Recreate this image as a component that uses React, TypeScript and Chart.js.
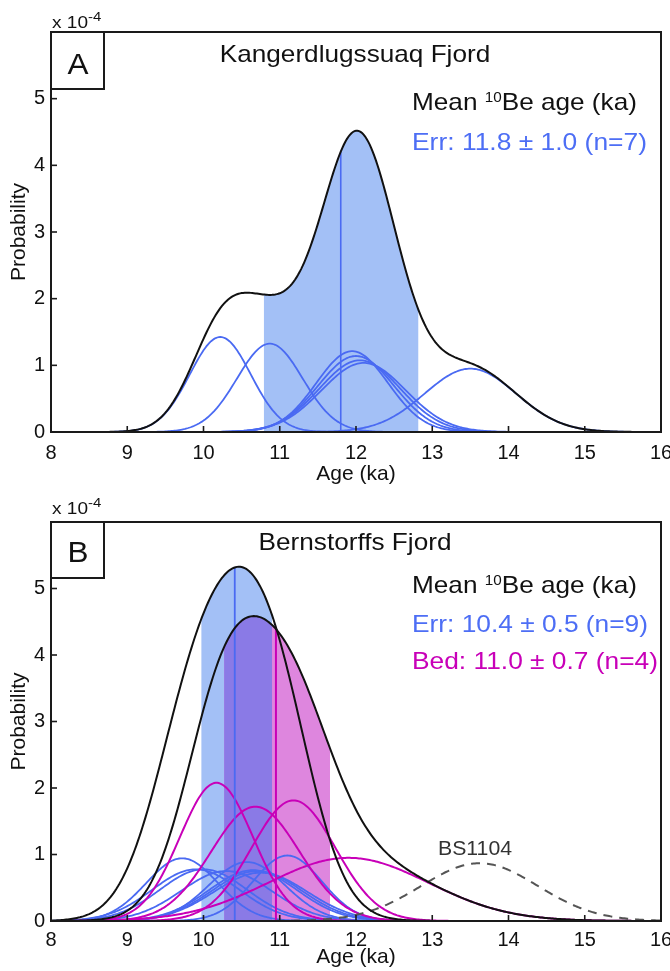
import React, { useEffect, useRef } from "react";
import { Chart, registerables } from "chart.js";

Chart.register(...registerables);

const FONT = '"Liberation Sans", Arial, Helvetica, sans-serif';

// ---------- axes ----------
const X_MIN = 8;
const X_MAX = 16;
const Y_MAX = 6;
const xTicks = [8, 9, 10, 11, 12, 13, 14, 15, 16];
const yTicks = [0, 1, 2, 3, 4, 5];
const xLabel = "Age (ka)";
const yLabel = "Probability";

// ---------- panel A : Kangerdlugssuaq Fjord ----------
const kangTitle = "Kangerdlugssuaq Fjord";
const kangAges = [10.22, 10.87, 11.95, 12.0, 12.05, 12.1, 13.5];
const kangErrors = [0.4, 0.43, 0.47, 0.5, 0.53, 0.55, 0.6];
const kangN = 7;
const kangMeanAge = 11.8;
const kangBand = [10.79, 12.82];
const kangLegend = "Err: 11.8 \u00b1 1.0 (n=7)";

// ---------- panel B : Bernstorffs Fjord ----------
const bernTitle = "Bernstorffs Fjord";
const bernErrAges = [9.72, 9.9, 10.0, 10.3, 10.57, 10.65, 10.7, 10.75, 11.1];
const bernErrErrors = [0.47, 0.57, 0.57, 0.59, 0.5, 0.58, 0.59, 0.61, 0.45];
const bernErrN = 9;
const bernErrMeanAge = 10.41;
const bernErrBand = [9.97, 10.9];
const bernErrLegend = "Err: 10.4 \u00b1 0.5 (n=9)";

const bernBedAges = [10.17, 10.68, 11.18, 11.9];
const bernBedErrors = [0.48, 0.58, 0.55, 1.05];
const bernBedN = 4;
const bernBedMeanAge = 10.95;
const bernBedBand = [10.27, 11.66];
const bernBedLegend = "Bed: 11.0 \u00b1 0.7 (n=4)";

const outlierName = "BS1104";
const outlierAge = 13.62;
const outlierError = 0.765;
const outlierN = 6;

// ---------- colours ----------
const BLUE = "#4a6af2";
const BLUE_TEXT = "#4d6ef5";
const BLUE_FILL = "#a3c0f6";
const MAGENTA = "#c800b8";
const PINK_FILL = "#de86de";
const PURPLE_FILL = "#8a7ae6";
const BLACK = "#111111";

// evaluation grid for the probability density curves
const grid: number[] = [];
for (let i = 0; i <= 400; i++) grid.push(X_MIN + (i * (X_MAX - X_MIN)) / 400);

// normal pdf per year, expressed in units of 1e-4
const pdf = (x: number, m: number, s: number, n: number) =>
  (10 / (n * s * Math.sqrt(2 * Math.PI))) * Math.exp(-0.5 * ((x - m) / s) ** 2);

const sumAt = (x: number, ms: number[], ss: number[], n: number) =>
  ms.reduce((acc, m, i) => acc + pdf(x, m, ss[i], n), 0);

const curve = (m: number, s: number, n: number) => grid.map((x) => ({ x, y: pdf(x, m, s, n) }));
const sumCurve = (ms: number[], ss: number[], n: number) =>
  grid.map((x) => ({ x, y: sumAt(x, ms, ss, n) }));
const bandPoints = (lo: number, hi: number, f: (x: number) => number) =>
  [lo, ...grid.filter((x) => x > lo && x < hi), hi].map((x) => ({ x, y: f(x) }));

const lineDs = (data: any[], color: string, width: number, order: number, dash: number[] = []) => ({
  data,
  borderColor: color,
  borderWidth: width,
  borderDash: dash,
  pointRadius: 0,
  fill: false,
  tension: 0,
  order,
});
const fillDs = (data: any[], color: string, order: number) => ({
  data,
  backgroundColor: color,
  borderColor: "rgba(0,0,0,0)",
  borderWidth: 0,
  pointRadius: 0,
  fill: "origin",
  tension: 0,
  order,
});

function drawText(
  ctx: CanvasRenderingContext2D,
  s: string,
  x: number,
  y: number,
  size: number,
  color: string,
  opts: { align?: CanvasTextAlign; sx?: number; w?: number } = {}
) {
  ctx.save();
  ctx.font = `${size}px ${FONT}`;
  const mw = ctx.measureText(s).width;
  const sx = opts.w ? opts.w / mw : opts.sx ?? 1;
  ctx.translate(x, y);
  ctx.scale(sx, 1);
  ctx.fillStyle = color;
  ctx.textBaseline = "alphabetic";
  ctx.textAlign = opts.align || "left";
  ctx.fillText(s, 0, 0);
  ctx.restore();
  return mw * sx;
}

function drawMeanHeader(ctx: CanvasRenderingContext2D, x: number, y: number) {
  let cx = x;
  cx += drawText(ctx, "Mean ", cx, y, 24, BLACK, { sx: 1.09 });
  cx += drawText(ctx, "10", cx, y - 8, 14, BLACK, { sx: 1.09 });
  drawText(ctx, "Be age (ka)", cx, y, 24, BLACK, { sx: 1.09 });
}

function drawExponent(ctx: CanvasRenderingContext2D, x: number, y: number) {
  const w = drawText(ctx, "x 10", x, y, 17, BLACK, { sx: 1.12 });
  drawText(ctx, "-4", x + w, y - 7, 13, BLACK, { sx: 1.15 });
}

function framePlugin(extra: (ctx: CanvasRenderingContext2D, chart: any) => void) {
  return {
    id: "frame",
    afterDraw(chart: any) {
      const { ctx, chartArea: a, scales } = chart;
      ctx.save();
      ctx.strokeStyle = "#1a1a1a";
      ctx.lineWidth = 2;
      ctx.strokeRect(a.left, a.top, a.right - a.left, a.bottom - a.top);
      ctx.lineWidth = 1.6;
      xTicks.forEach((v) => {
        const px = scales.x.getPixelForValue(v);
        ctx.beginPath();
        ctx.moveTo(px, a.bottom);
        ctx.lineTo(px, a.bottom - 6);
        ctx.stroke();
      });
      yTicks.forEach((v) => {
        const py = scales.y.getPixelForValue(v);
        ctx.beginPath();
        ctx.moveTo(a.left, py);
        ctx.lineTo(a.left + 6, py);
        ctx.stroke();
      });
      ctx.restore();
      extra(ctx, chart);
    },
  };
}

function makeScales(xAxisH: number, xTickPad: number, xTitlePad: number) {
  return {
    x: {
      type: "linear",
      min: X_MIN,
      max: X_MAX,
      afterBuildTicks: (s: any) => {
        s.ticks = xTicks.map((v) => ({ value: v }));
      },
      ticks: { color: BLACK, font: { family: FONT, size: 20 }, padding: xTickPad, maxRotation: 0, autoSkip: false },
      grid: { display: false, drawTicks: false },
      border: { display: false },
      title: {
        display: true,
        text: xLabel,
        color: BLACK,
        font: { family: FONT, size: 21, lineHeight: 1 },
        padding: { top: 0, bottom: xTitlePad },
      },
      afterFit: (s: any) => {
        s.height = xAxisH;
        s.paddingLeft = 0;
        s.paddingRight = 0;
      },
    },
    y: {
      type: "linear",
      min: 0,
      max: Y_MAX,
      afterBuildTicks: (s: any) => {
        s.ticks = yTicks.map((v) => ({ value: v }));
      },
      ticks: { color: BLACK, font: { family: FONT, size: 20 }, padding: 6 },
      grid: { display: false, drawTicks: false },
      border: { display: false },
      title: {
        display: true,
        text: yLabel,
        color: BLACK,
        font: { family: FONT, size: 21, lineHeight: 1 },
        padding: { top: 9, bottom: 0 },
      },
      afterFit: (s: any) => {
        s.width = 51;
        s.paddingTop = 0;
        s.paddingBottom = 0;
      },
    },
  };
}

function baseOptions(areaTop: number, xAxisH: number, xTickPad: number, xTitlePad: number) {
  return {
    responsive: false,
    animation: false,
    events: [],
    layout: { padding: { left: 0, right: 9, top: areaTop, bottom: 0 } },
    plugins: { legend: { display: false }, tooltip: { enabled: false } },
    scales: makeScales(xAxisH, xTickPad, xTitlePad),
  };
}

function configA(): any {
  const sumF = (x: number) => sumAt(x, kangAges, kangErrors, kangN);
  const datasets: any[] = [];
  datasets.push(fillDs(bandPoints(kangBand[0], kangBand[1], sumF), BLUE_FILL, 20));
  kangAges.forEach((m, i) => datasets.push(lineDs(curve(m, kangErrors[i], kangN), BLUE, 1.8, 10)));
  datasets.push(lineDs([{ x: kangMeanAge, y: 0 }, { x: kangMeanAge, y: sumF(kangMeanAge) }], BLUE, 1.6, 5));
  datasets.push(lineDs(sumCurve(kangAges, kangErrors, kangN), BLACK, 2, 0));
  return {
    type: "line",
    data: { datasets },
    options: baseOptions(32, 53, 9, 0),
    plugins: [
      framePlugin((ctx) => {
        drawExponent(ctx, 52, 28);
        ctx.save();
        ctx.strokeStyle = "#1a1a1a";
        ctx.lineWidth = 2;
        ctx.strokeRect(51, 32, 53, 57);
        ctx.restore();
        drawText(ctx, "A", 78, 74, 30, BLACK, { align: "center", sx: 1.05 });
        drawText(ctx, kangTitle, 355, 62, 24, BLACK, { align: "center", sx: 1.09 });
        drawMeanHeader(ctx, 412, 110);
        drawText(ctx, kangLegend, 412, 150, 24, BLUE_TEXT, { w: 235 });
      }),
    ],
  };
}

function configB(): any {
  const errF = (x: number) => sumAt(x, bernErrAges, bernErrErrors, bernErrN);
  const bedF = (x: number) => sumAt(x, bernBedAges, bernBedErrors, bernBedN);
  const ovLo = Math.max(bernErrBand[0], bernBedBand[0]);
  const ovHi = Math.min(bernErrBand[1], bernBedBand[1]);
  const datasets: any[] = [];
  datasets.push(fillDs(bandPoints(bernErrBand[0], bernErrBand[1], errF), BLUE_FILL, 22));
  datasets.push(fillDs(bandPoints(bernBedBand[0], bernBedBand[1], bedF), PINK_FILL, 21));
  datasets.push(fillDs(bandPoints(ovLo, ovHi, (x) => Math.min(errF(x), bedF(x))), PURPLE_FILL, 20));
  bernErrAges.forEach((m, i) => datasets.push(lineDs(curve(m, bernErrErrors[i], bernErrN), BLUE, 1.8, 12)));
  bernBedAges.forEach((m, i) => datasets.push(lineDs(curve(m, bernBedErrors[i], bernBedN), MAGENTA, 2, 11)));
  datasets.push(lineDs(curve(outlierAge, outlierError, outlierN), "#555555", 2, 10, [9, 7]));
  datasets.push(lineDs([{ x: bernErrMeanAge, y: 0 }, { x: bernErrMeanAge, y: errF(bernErrMeanAge) }], BLUE, 1.8, 6));
  datasets.push(lineDs([{ x: bernBedMeanAge, y: 0 }, { x: bernBedMeanAge, y: bedF(bernBedMeanAge) }], MAGENTA, 2, 5));
  datasets.push(lineDs(sumCurve(bernErrAges, bernErrErrors, bernErrN), BLACK, 2, 0));
  datasets.push(lineDs(sumCurve(bernBedAges, bernBedErrors, bernBedN), BLACK, 2, 0));
  return {
    type: "line",
    data: { datasets },
    options: baseOptions(37, 50, 7, 3),
    plugins: [
      framePlugin((ctx) => {
        drawExponent(ctx, 52, 29);
        ctx.save();
        ctx.strokeStyle = "#1a1a1a";
        ctx.lineWidth = 2;
        ctx.strokeRect(51, 37, 53, 56);
        ctx.restore();
        drawText(ctx, "B", 78, 77, 30, BLACK, { align: "center", sx: 1.05 });
        drawText(ctx, bernTitle, 355, 65, 24, BLACK, { align: "center", sx: 1.09 });
        drawMeanHeader(ctx, 412, 108);
        drawText(ctx, bernErrLegend, 412, 147, 24, BLUE_TEXT, { w: 236 });
        drawText(ctx, bernBedLegend, 412, 184, 24, MAGENTA, { w: 246 });
        drawText(ctx, outlierName, 438, 370, 21, "#333333", { w: 74 });
      }),
    ],
  };
}

export default function App() {
  const refA = useRef<HTMLCanvasElement>(null);
  const refB = useRef<HTMLCanvasElement>(null);
  useEffect(() => {
    const a = new Chart(refA.current as HTMLCanvasElement, configA());
    const b = new Chart(refB.current as HTMLCanvasElement, configB());
    return () => {
      a.destroy();
      b.destroy();
    };
  }, []);
  return (
    <div style={{ position: "absolute", left: 0, top: 0, width: 670, height: 971, background: "#ffffff" }}>
      <canvas ref={refA} width={670} height={485} style={{ position: "absolute", left: 0, top: 0 }} />
      <canvas ref={refB} width={670} height={486} style={{ position: "absolute", left: 0, top: 485 }} />
    </div>
  );
}
